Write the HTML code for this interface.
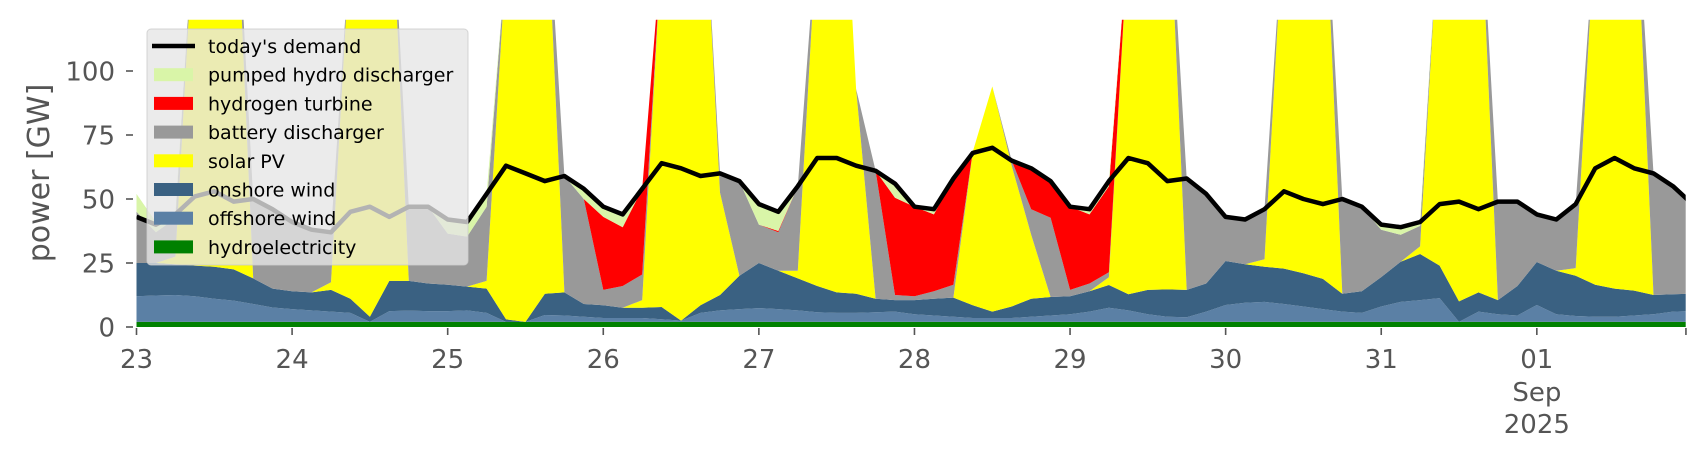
<!DOCTYPE html>
<html><head><meta charset="utf-8"><style>
html,body{margin:0;padding:0;background:#fff;}
svg{display:block;font-family:"DejaVu Sans","Liberation Sans",sans-serif;}
</style></head><body>
<svg id="chart" width="1706" height="460" viewBox="0 0 1706 460" xmlns="http://www.w3.org/2000/svg">
<defs><clipPath id="plotclip"><rect x="136.5" y="19.8" width="1549.2" height="308"/></clipPath></defs>
<g id="plot" clip-path="url(#plotclip)"></g>
<g id="axes"></g>
<g id="legend"></g>
</svg>
<script>
const hours = [0,3,6,9,12,15,18,21,24,27,30,33,36,39,42,45,48,51,54,57,60,63,66,69,72,75,78,81,84,87,90,93,96,99,102,105,108,111,114,117,120,123,126,129,132,135,138,141,144,147,150,153,156,159,162,165,168,171,174,177,180,183,186,189,192,195,198,201,204,207,210,213,216,219,222,225,228,231,234,237,240];
const demand = [43,40,44,51,53,49,50,46, 41,38,37,45,47,43,47,47, 42,41,52,63,60,57,59,54, 47,44,54,64,62,59,60,57, 48,45,55,66,66,63,61,56, 47,46,58,68,70,65,62,57, 47,46,57,66,64,57,58,52, 43,42,46,53,50,48,50,47, 40,39,41,48,49,46,49,49, 44,42,48,62,66,62,60,55, 48];
const hydro = [2,2,2,2,2,2,2,2, 2,2,2,2,2,2,2,2, 2,2,2,2,2,2,2,2, 2,2,2,2,2,2,2,2, 2,2,2,2,2,2,2,2, 2,2,2,2,2,2,2,2, 2,2,2,2,2,2,2,2, 2,2,2,2,2,2,2,2, 2,2,2,2,2,2,2,2, 2,2,2,2,2,2,2,2, 2];
const offshore = [10,10.3,10.5,10,9,8.3,7,5.6, 5,4.5,4,3.5,0,4.2,4.4,4.2, 4.2,4.5,3.5,0,0,2.7,2.5,2, 1.5,1.5,1.5,1,0.5,3.5,4.5,5, 5.4,5,4.5,3.8,3.5,3.5,3.8,4, 3,2.5,2,1.5,1.5,1.5,2,2.5, 3,4,5.5,4.5,3,2,1.8,4, 6.6,7.5,7.8,7,6,5,4,3.5, 6,7.8,8.5,9.3,0,4,3,2.5, 6.6,3,2.3,2,2,2.5,3,4, 4.2];
const onshore = [13,12.7,12,12,12.5,12.2,10,7.4, 7,7,8.5,5.5,2,11.8,11.6,10.8, 10.3,9.3,9.5,1,0,8.3,9,5, 5,4,4,4.8,0,3,6,13, 17.6,15,12.5,10.2,8,7.5,5.2,4.5, 5.5,6.5,7.5,5,2.5,4.5,7,7.2, 7,8,8.9,6.3,9.5,10.7,10.7,11, 17.2,15,13.7,13.8,13,11.8,7,8.5, 11.5,15.7,18,12.7,8,7.5,5.5,11.5, 16.8,17,15.7,12.5,11,9.7,7.5,6.8, 6.8];
const solar = [0,0,3,140,220,170,0,0, 0,0,3,140,220,170,0,0, 0,0,3,140,220,170,0,0, 0,0,3,140,220,190,40,0, 0,0,3,140,220,80,0,0, 0,0,0,60,88,55,25,0, 0,0,3,140,220,170,0,0, 0,0,3,140,220,170,0,0, 0,0,3,140,220,170,0,0, 0,0,3,140,220,170,0,0, 0];
const battery = [20,12,15,0,0,0,31,31, 27,24.5,19.5,0,0,0,29,30, 20,19.5,29,0,0,0,45.5,41, 6,8.5,10,0,0,0,7.5,37, 15,15,33,0,0,0,50,2, 1.5,3,5,0,0,2,10,31, 2.5,3,2,0,0,0,43.5,35, 17.2,17.5,19.5,0,0,0,37,33, 18.5,10.5,8,0,0,0,38.5,33, 18.6,20,25,0,0,0,47.5,42.2, 35];
const hydrogen = [0,0,0,0,0,0,0,0, 0,0,0,0,0,0,0,0, 0,0,0,0,0,0,0,0, 28.5,23,33.5,0,0,0,0,0, 0,0.5,0,0,0,0,0,38, 35,30,41.5,0,0,0,16,14.3, 32.5,27,33.6,0,0,0,0,0, 0,0,0,0,0,0,0,0, 0,0,0,0,0,0,0,0, 0,0,0,0,0,0,0,0, 0];
const pumped = [7,4,2,0,0,0,0,0, 0,0,0,0,0,0,0,0, 5,6,5,0,0,0,0,4, 4,5,0,0,0,0,0,0, 8,7.5,0,0,0,0,0,5, 0,2,0,0,0,0,0,0, 0,2,2,0,0,0,0,0, 0,0,0,0,0,0,0,0, 2,3,2,0,0,0,0,0, 0,0,0,0,0,0,0,0, 0];
const yTicks = [0,25,50,75,100];
const dayLabels = ["23","24","25","26","27","28","29","30","31","01"];

const NS = "http://www.w3.org/2000/svg";
const X0 = 136.5, PXH = 6.483, Y0 = 327, PXV = 2.56;
function X(h){ return X0 + h*PXH; }
function Y(v){ return Y0 - v*PXV; }
function mk(tag, attrs, parent){
  const e = document.createElementNS(NS, tag);
  for (const k in attrs) e.setAttribute(k, attrs[k]);
  parent.appendChild(e); return e;
}
const plot = document.getElementById('plot');
const axes = document.getElementById('axes');
const legend = document.getElementById('legend');

const series = [
  {name:'hydroelectricity', vals:hydro, color:'#008000'},
  {name:'offshore wind', vals:offshore, color:'#5b80a5'},
  {name:'onshore wind', vals:onshore, color:'#3a6182'},
  {name:'solar PV', vals:solar, color:'#ffff00'},
  {name:'battery discharger', vals:battery, color:'#999999'},
  {name:'hydrogen turbine', vals:hydrogen, color:'#ff0000'},
  {name:'pumped hydro discharger', vals:pumped, color:'#d9f5a8'}
];
const cum = hours.map(()=>0);
series.forEach(s=>{
  const lower = cum.slice();
  for (let i=0;i<hours.length;i++) cum[i] += s.vals[i];
  let d = '';
  for (let i=0;i<hours.length;i++) d += (i?'L':'M') + X(hours[i]).toFixed(1)+','+Y(cum[i]).toFixed(1);
  for (let i=hours.length-1;i>=0;i--) d += 'L'+X(hours[i]).toFixed(1)+','+Y(lower[i]).toFixed(1);
  d += 'Z';
  const p = mk('path', {d:d, fill:s.color, stroke:'none'}, plot);
  
  
});
let dl = '';
for (let i=0;i<hours.length;i++) dl += (i?'L':'M') + X(hours[i]).toFixed(1)+','+Y(demand[i]).toFixed(1);
const line = mk('path', {d:dl, fill:'none', stroke:'#000', 'stroke-width':4.5, 'stroke-linejoin':'round'}, plot);



yTicks.forEach(v=>{
  const t = mk('line', {x1:126, x2:133, y1:Y(v), y2:Y(v), stroke:'#555', 'stroke-width':1.6}, axes);
  
  
  const l = mk('text', {x:115, y:Y(v)+9.5, 'text-anchor':'end', 'font-size':26, fill:'#555'}, axes);
  l.textContent = String(v);
  
  
});
const yl = mk('text', {x:0, y:0, transform:'translate(49,173) rotate(-90)', 'text-anchor':'middle', 'font-size':30, fill:'#555'}, axes);
yl.textContent = 'power [GW]';



dayLabels.forEach((lab,i)=>{
  const x = X(i*24);
  const t = mk('line', {x1:x, x2:x, y1:328, y2:335, stroke:'#555', 'stroke-width':1.6}, axes);
  
  
  const l = mk('text', {x:x, y:368, 'text-anchor':'middle', 'font-size':26, fill:'#555'}, axes);
  l.textContent = lab;
  
  
  if (lab === '01'){
    const m = mk('text', {x:x, y:401, 'text-anchor':'middle', 'font-size':26, fill:'#555'}, axes);
    m.textContent = 'Sep';
    
    
    const yr = mk('text', {x:x, y:433, 'text-anchor':'middle', 'font-size':26, fill:'#555'}, axes);
    yr.textContent = '2025';
    
    
  }
});
const endTick = mk('line', {x1:X(239), x2:X(239), y1:328, y2:335, stroke:'#555', 'stroke-width':1.6}, axes);



const box = mk('rect', {x:147, y:29, width:321, height:236, rx:4, fill:'rgba(229,229,229,0.78)', stroke:'rgba(204,204,204,0.8)', 'stroke-width':1}, legend);


const entries = [{name:"today's demand", line:true}].concat(series.slice().reverse());
entries.forEach((e,i)=>{
  const cy = 46 + i*28.7;
  if (e.line){
    const l = mk('line', {x1:152, x2:195, y1:cy, y2:cy, stroke:'#000', 'stroke-width':4.5}, legend);
    
    
  } else {
    const r = mk('rect', {x:154, y:cy-6.5, width:39, height:13, fill:e.color}, legend);
    
    
  }
  const t = mk('text', {x:208, y:cy+7, 'font-size':19, fill:'#000'}, legend);
  t.textContent = e.name;
  
  
});
</script>
</body></html>
